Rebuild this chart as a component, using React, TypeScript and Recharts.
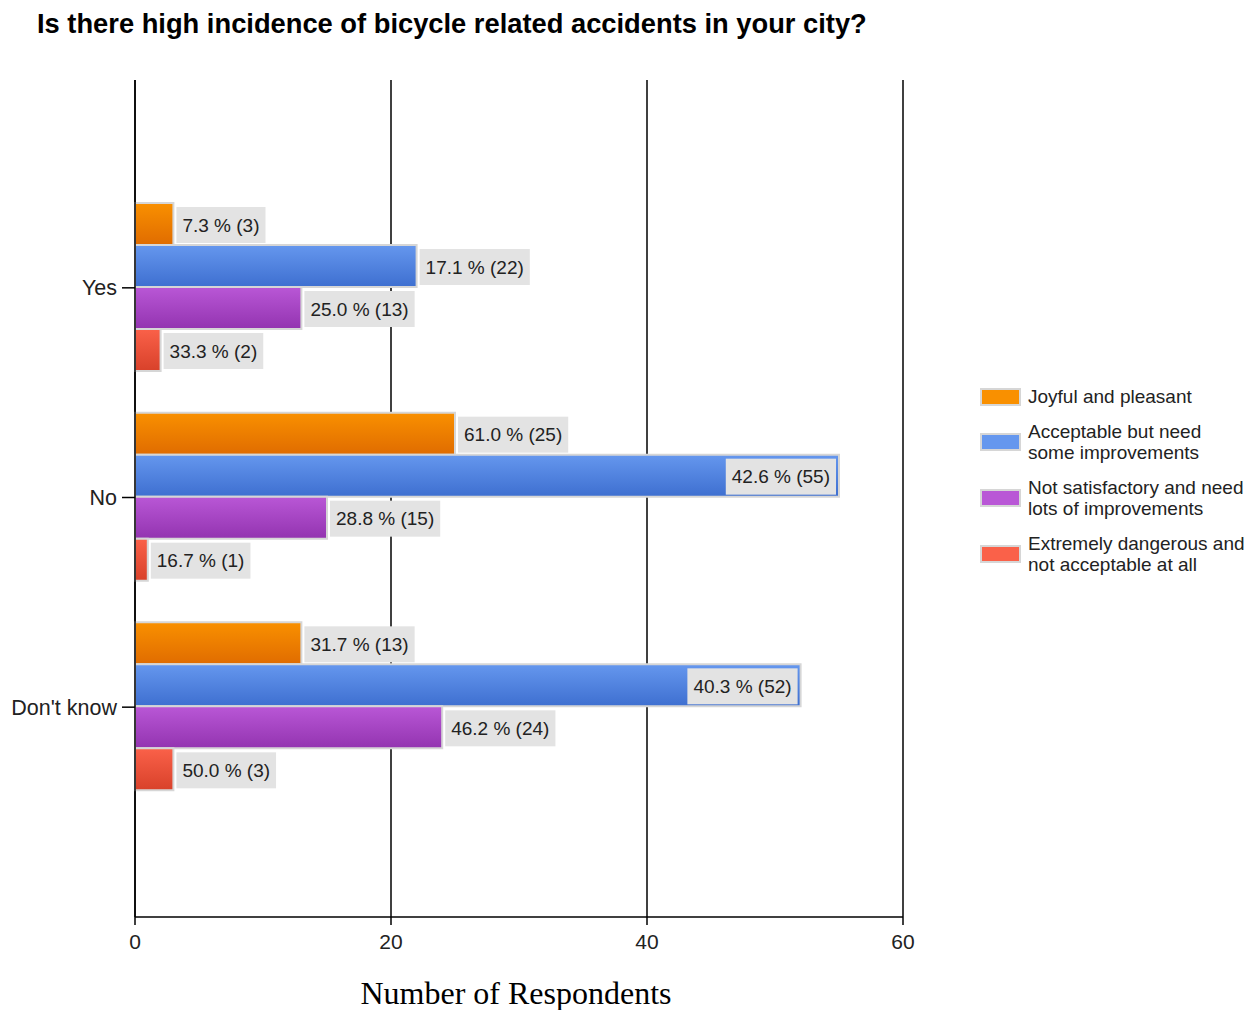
import { BarChart, Bar, XAxis, YAxis, CartesianGrid, LabelList } from 'recharts'

const CATEGORIES = ['Yes', 'No', "Don't know"]
const SERIES_NAMES = [
  ['Joyful and pleasant'],
  ['Acceptable but need', 'some improvements'],
  ['Not satisfactory and need', 'lots of improvements'],
  ['Extremely dangerous and', 'not acceptable at all'],
]
const JOYFUL = [3, 25, 13]
const JOYFUL_PCT = ['7.3', '61.0', '31.7']
const ACCEPTABLE = [22, 55, 52]
const ACCEPTABLE_PCT = ['17.1', '42.6', '40.3']
const NOT_SATISFACTORY = [13, 15, 24]
const NOT_SATISFACTORY_PCT = ['25.0', '28.8', '46.2']
const DANGEROUS = [2, 1, 3]
const DANGEROUS_PCT = ['33.3', '16.7', '50.0']
const X_TICKS = [0, 20, 40, 60]

const COLORS = [
  ['#f99000', '#e06c00'],
  ['#6597ee', '#3e6fd0'],
  ['#b957d6', '#9334b0'],
  ['#fa6149', '#d8412a'],
]

const W = 1255
const H = 1010
const PLOT_RIGHT = 903
const SANS = '"Liberation Sans", Arial, sans-serif'
const LABEL_SIZE = 19

const data = CATEGORIES.map((name, i) => ({
  name,
  joyful: JOYFUL[i],
  acceptable: ACCEPTABLE[i],
  notSatisfactory: NOT_SATISFACTORY[i],
  dangerous: DANGEROUS[i],
}))

let ctx: CanvasRenderingContext2D | null = null
function measure(text: string) {
  if (!ctx) ctx = document.createElement('canvas').getContext('2d')
  if (!ctx) return text.length * 8.5
  ctx.font = `${LABEL_SIZE}px ${SANS}`
  return ctx.measureText(text).width
}

// grey value box right of the bar, or inside its end when it would pass the plot edge
function makeLabel(pcts: string[], counts: number[]) {
  return (props: any) => {
    const { x, y, width, height, index } = props
    const text = `${pcts[index]} % (${counts[index]})`
    const boxW = measure(text) + 12
    const boxH = height - 6
    const end = x + width
    const boxX = end + 3 + boxW > PLOT_RIGHT ? end - 3 - boxW : end + 3
    const boxY = y + (height - boxH) / 2 + 1
    return (
      <g>
        <rect x={boxX} y={boxY} width={boxW} height={boxH} fill="#e3e3e3" />
        <text x={boxX + 6} y={boxY + boxH / 2} dominantBaseline="central" fontFamily={SANS} fontSize={LABEL_SIZE} fill="#222">
          {text}
        </text>
      </g>
    )
  }
}

const SERIES = [
  { key: 'joyful', values: JOYFUL, pcts: JOYFUL_PCT },
  { key: 'acceptable', values: ACCEPTABLE, pcts: ACCEPTABLE_PCT },
  { key: 'notSatisfactory', values: NOT_SATISFACTORY, pcts: NOT_SATISFACTORY_PCT },
  { key: 'dangerous', values: DANGEROUS, pcts: DANGEROUS_PCT },
]

export default function App() {
  return (
    <div style={{ position: 'absolute', left: 0, top: 0, width: W, height: H, background: '#fff' }}>
      <div style={{ position: 'absolute', left: 37, top: 10, fontFamily: SANS, fontWeight: 'bold', fontSize: 27.3, lineHeight: '27px', color: '#000', whiteSpace: 'nowrap' }}>
        Is there high incidence of bicycle related accidents in your city?
      </div>

      <BarChart
        width={W}
        height={H}
        data={data}
        layout="vertical"
        margin={{ top: 80, right: W - PLOT_RIGHT, bottom: 0, left: 0 }}
        barCategoryGap={20}
        barGap={0}
      >
        <defs>
          {COLORS.map(([top, bottom], i) => (
            <linearGradient key={i} id={`grad${i}`} x1="0" y1="0" x2="0" y2="1">
              <stop offset="0%" stopColor={top} />
              <stop offset="100%" stopColor={bottom} />
            </linearGradient>
          ))}
        </defs>
        <CartesianGrid horizontal={false} stroke="#000" strokeWidth={1.5} />
        <XAxis
          type="number"
          domain={[0, 60]}
          ticks={X_TICKS}
          height={93}
          tickSize={8}
          tickMargin={9}
          axisLine={{ stroke: '#000', strokeWidth: 1.5 }}
          tickLine={{ stroke: '#000', strokeWidth: 1.5 }}
          tick={{ fontSize: 21, fill: '#222', fontFamily: SANS }}
          label={{ value: 'Number of Respondents', position: 'insideBottom', offset: 6, dx: -3, style: { fontFamily: '"Liberation Serif", serif', fontSize: 32, fill: '#000' } }}
        />
        <YAxis
          type="category"
          dataKey="name"
          width={135}
          padding={{ top: 103, bottom: 105 }}
          tickSize={13}
          tickMargin={5}
          axisLine={{ stroke: '#000', strokeWidth: 1.5 }}
          tickLine={{ stroke: '#000', strokeWidth: 1.5 }}
          tick={{ fontSize: 21.5, fill: '#222', fontFamily: SANS }}
        />
        {SERIES.map((s, i) => (
          <Bar key={s.key} dataKey={s.key} fill={`url(#grad${i})`} stroke="#d6d6d6" strokeWidth={2} isAnimationActive={false}>
            <LabelList dataKey={s.key} content={makeLabel(s.pcts, s.values)} />
          </Bar>
        ))}
      </BarChart>

      <div style={{ position: 'absolute', left: 980, top: 386, fontFamily: SANS, fontSize: 19, color: '#222', lineHeight: '21px' }}>
        {SERIES_NAMES.map((lines, i) => (
          <div key={i} style={{ display: 'flex', alignItems: 'center', marginBottom: 14 }}>
            <div style={{ width: 37, height: 14, background: COLORS[i][0], border: '2px solid #d6d6d6', marginRight: 7 }} />
            <div>
              {lines.map((l, j) => (
                <div key={j}>{l}</div>
              ))}
            </div>
          </div>
        ))}
      </div>
    </div>
  )
}
